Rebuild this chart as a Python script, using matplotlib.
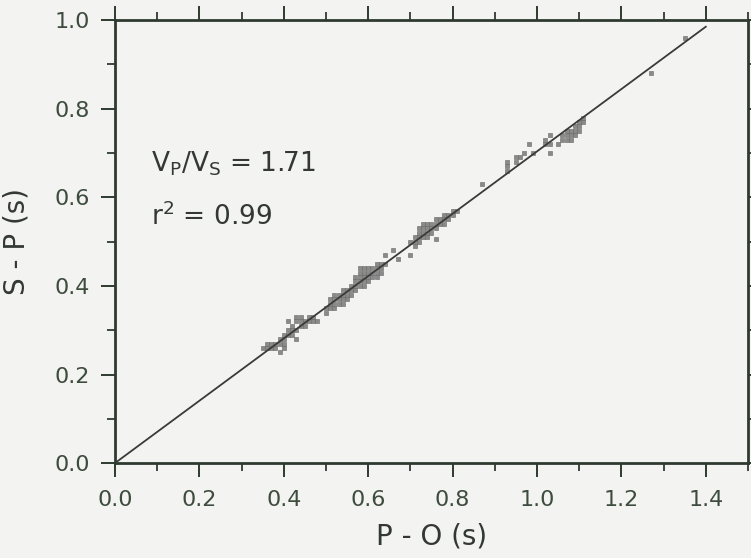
import matplotlib
matplotlib.use('Agg')
import numpy as np
import matplotlib.pyplot as plt
from matplotlib.ticker import MultipleLocator

plt.rcParams['font.family'] = ['DejaVu Sans']
plt.rcParams['mathtext.fontset'] = 'dejavusans'

# S-P vs P-O travel times (s)
p_o = [0.35, 0.36, 0.36, 0.37, 0.37, 0.38, 0.38, 0.39, 0.39, 0.39, 0.40, 0.40, 0.40, 0.40,
       0.41, 0.41, 0.41, 0.42, 0.42, 0.42, 0.43, 0.43, 0.43, 0.43, 0.44, 0.44, 0.44,
       0.45, 0.45, 0.46, 0.46, 0.47, 0.47, 0.48,
       0.50, 0.50, 0.51, 0.51, 0.51, 0.52, 0.52, 0.52, 0.52, 0.53, 0.53, 0.53,
       0.54, 0.54, 0.54, 0.54, 0.55, 0.55, 0.55, 0.56, 0.56, 0.56,
       0.57, 0.57, 0.57, 0.57, 0.58, 0.58, 0.58, 0.58, 0.58, 0.59, 0.59, 0.59, 0.59, 0.59,
       0.60, 0.60, 0.60, 0.60, 0.61, 0.61, 0.61, 0.62, 0.62, 0.62, 0.62, 0.63, 0.63, 0.63,
       0.64, 0.64, 0.66, 0.67, 0.70,
       0.70, 0.71, 0.71, 0.71, 0.72, 0.72, 0.72, 0.72, 0.73, 0.73, 0.73, 0.73,
       0.74, 0.74, 0.74, 0.74, 0.75, 0.75, 0.75, 0.76, 0.76, 0.76, 0.76,
       0.77, 0.77, 0.78, 0.78, 0.78, 0.79, 0.79, 0.80, 0.80, 0.81,
       0.87, 0.93, 0.93, 0.93, 0.95, 0.95, 0.96, 0.97, 0.98, 0.99,
       1.02, 1.02, 1.03, 1.03, 1.03, 1.05, 1.06, 1.06, 1.07, 1.07, 1.07,
       1.08, 1.08, 1.08, 1.09, 1.09, 1.09, 1.10, 1.10, 1.10, 1.11, 1.11,
       1.27, 1.35]
s_p = [0.26, 0.26, 0.27, 0.26, 0.27, 0.27, 0.26, 0.25, 0.27, 0.28, 0.26, 0.27, 0.28, 0.29,
       0.29, 0.30, 0.32, 0.29, 0.30, 0.31, 0.30, 0.32, 0.33, 0.28, 0.31, 0.32, 0.33,
       0.31, 0.32, 0.32, 0.33, 0.32, 0.33, 0.32,
       0.34, 0.35, 0.35, 0.36, 0.37, 0.35, 0.36, 0.37, 0.38, 0.36, 0.37, 0.38,
       0.36, 0.37, 0.38, 0.39, 0.37, 0.38, 0.39, 0.38, 0.39, 0.40,
       0.39, 0.40, 0.41, 0.42, 0.40, 0.41, 0.42, 0.43, 0.44, 0.40, 0.41, 0.42, 0.43, 0.44,
       0.41, 0.42, 0.43, 0.44, 0.42, 0.43, 0.44, 0.42, 0.43, 0.44, 0.45, 0.43, 0.44, 0.45,
       0.45, 0.47, 0.48, 0.46, 0.47,
       0.50, 0.49, 0.50, 0.51, 0.50, 0.51, 0.52, 0.53, 0.51, 0.52, 0.53, 0.54,
       0.51, 0.52, 0.53, 0.54, 0.52, 0.53, 0.54, 0.505, 0.53, 0.54, 0.55,
       0.54, 0.55, 0.54, 0.55, 0.56, 0.55, 0.56, 0.56, 0.57, 0.57,
       0.63, 0.66, 0.67, 0.68, 0.68, 0.69, 0.69, 0.70, 0.72, 0.70,
       0.72, 0.73, 0.72, 0.70, 0.74, 0.72, 0.73, 0.74, 0.73, 0.74, 0.75,
       0.73, 0.74, 0.75, 0.74, 0.75, 0.76, 0.75, 0.76, 0.77, 0.77, 0.78,
       0.88, 0.96]

vp_vs = 1.71
r2 = 0.99
fit_x = [0.0, 1.4]
fit_y = [0.0, 0.985]   # drawn fit line

ink = '#2f3a2f'
txt = '#333833'
bg = '#f3f3f1'

fig = plt.figure(figsize=(7.51, 5.58), dpi=100, facecolor=bg)
ax = fig.add_axes([0.153, 0.170, 0.843, 0.794])
ax.set_facecolor(bg)

ax.scatter(p_o, s_p, marker='s', s=7, color='#8a8a8a', edgecolors='#666666',
           linewidths=0.4, zorder=2)
ax.plot(fit_x, fit_y, color='#3a3a3a', lw=1.3, zorder=3)

ax.set_xlim(0, 1.5)
ax.set_ylim(0, 1.0)
ax.xaxis.set_major_locator(MultipleLocator(0.2))
ax.xaxis.set_minor_locator(MultipleLocator(0.1))
ax.yaxis.set_major_locator(MultipleLocator(0.2))
ax.yaxis.set_minor_locator(MultipleLocator(0.1))
ax.set_xticks(np.arange(0, 1.41, 0.2))
ax.xaxis.set_major_formatter(plt.FuncFormatter(lambda v, p: f'{v:.1f}'))
ax.yaxis.set_major_formatter(plt.FuncFormatter(lambda v, p: f'{v:.1f}'))

ax.tick_params(which='both', direction='out', top=True, right=True,
               color=ink, labelcolor='#3e4c3e', labelsize=16)
ax.tick_params(which='major', length=10, width=1.4)
ax.tick_params(which='minor', length=5.5, width=1.3)
ax.tick_params(axis='x', which='major', pad=9)
ax.tick_params(axis='y', which='major', pad=8)
for s in ax.spines.values():
    s.set_color(ink)
    s.set_linewidth(2)

ax.set_xlabel('P - O (s)', fontsize=20, color=txt, labelpad=9)
ax.set_ylabel('S - P (s)', fontsize=20, color=txt)
ax.yaxis.set_label_coords(-0.134, 0.5)

ax.text(0.086, 0.675, r'V$_\mathregular{P}$/V$_\mathregular{S}$ = %.2f' % vp_vs,
        fontsize=19, color=txt, va='center')
ax.text(0.086, 0.555, r'r$^\mathregular{2}$ = %.2f' % r2,
        fontsize=19, color=txt, va='center')

fig.savefig('out.png', dpi=100, facecolor=bg)
